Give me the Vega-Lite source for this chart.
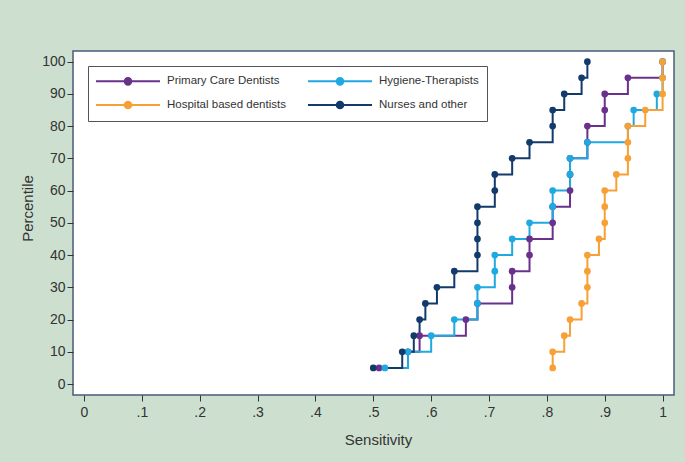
{
  "$schema": "https://vega.github.io/schema/vega-lite/v6.json",
  "width": 601,
  "height": 344,
  "autosize": "none",
  "padding": {"left": 73, "top": 51, "right": 11, "bottom": 67},
  "background": "#cde0d0",
  "config": {
    "view": {"fill": "white", "stroke": "#4b5b78", "strokeWidth": 1.5},
    "font": "Liberation Sans"
  },
  "datasets": {
    "pts": [
      {"group": "Primary Care Dentists", "percentile": 5, "sensitivity": 0.51},
      {"group": "Primary Care Dentists", "percentile": 10, "sensitivity": 0.56},
      {"group": "Primary Care Dentists", "percentile": 15, "sensitivity": 0.58},
      {"group": "Primary Care Dentists", "percentile": 20, "sensitivity": 0.66},
      {"group": "Primary Care Dentists", "percentile": 25, "sensitivity": 0.68},
      {"group": "Primary Care Dentists", "percentile": 30, "sensitivity": 0.74},
      {"group": "Primary Care Dentists", "percentile": 35, "sensitivity": 0.74},
      {"group": "Primary Care Dentists", "percentile": 40, "sensitivity": 0.77},
      {"group": "Primary Care Dentists", "percentile": 45, "sensitivity": 0.77},
      {"group": "Primary Care Dentists", "percentile": 50, "sensitivity": 0.81},
      {"group": "Primary Care Dentists", "percentile": 55, "sensitivity": 0.81},
      {"group": "Primary Care Dentists", "percentile": 60, "sensitivity": 0.84},
      {"group": "Primary Care Dentists", "percentile": 65, "sensitivity": 0.84},
      {"group": "Primary Care Dentists", "percentile": 70, "sensitivity": 0.84},
      {"group": "Primary Care Dentists", "percentile": 75, "sensitivity": 0.87},
      {"group": "Primary Care Dentists", "percentile": 80, "sensitivity": 0.87},
      {"group": "Primary Care Dentists", "percentile": 85, "sensitivity": 0.90},
      {"group": "Primary Care Dentists", "percentile": 90, "sensitivity": 0.90},
      {"group": "Primary Care Dentists", "percentile": 95, "sensitivity": 0.94},
      {"group": "Primary Care Dentists", "percentile": 100, "sensitivity": 1.0},
      {"group": "Hygiene-Therapists", "percentile": 5, "sensitivity": 0.52},
      {"group": "Hygiene-Therapists", "percentile": 10, "sensitivity": 0.56},
      {"group": "Hygiene-Therapists", "percentile": 15, "sensitivity": 0.60},
      {"group": "Hygiene-Therapists", "percentile": 20, "sensitivity": 0.64},
      {"group": "Hygiene-Therapists", "percentile": 25, "sensitivity": 0.68},
      {"group": "Hygiene-Therapists", "percentile": 30, "sensitivity": 0.68},
      {"group": "Hygiene-Therapists", "percentile": 35, "sensitivity": 0.71},
      {"group": "Hygiene-Therapists", "percentile": 40, "sensitivity": 0.71},
      {"group": "Hygiene-Therapists", "percentile": 45, "sensitivity": 0.74},
      {"group": "Hygiene-Therapists", "percentile": 50, "sensitivity": 0.77},
      {"group": "Hygiene-Therapists", "percentile": 55, "sensitivity": 0.81},
      {"group": "Hygiene-Therapists", "percentile": 60, "sensitivity": 0.81},
      {"group": "Hygiene-Therapists", "percentile": 65, "sensitivity": 0.84},
      {"group": "Hygiene-Therapists", "percentile": 70, "sensitivity": 0.84},
      {"group": "Hygiene-Therapists", "percentile": 75, "sensitivity": 0.87},
      {"group": "Hygiene-Therapists", "percentile": 80, "sensitivity": 0.94},
      {"group": "Hygiene-Therapists", "percentile": 85, "sensitivity": 0.95},
      {"group": "Hygiene-Therapists", "percentile": 90, "sensitivity": 0.99},
      {"group": "Hygiene-Therapists", "percentile": 95, "sensitivity": 1.0},
      {"group": "Hygiene-Therapists", "percentile": 100, "sensitivity": 1.0},
      {"group": "Hospital based dentists", "percentile": 5, "sensitivity": 0.81},
      {"group": "Hospital based dentists", "percentile": 10, "sensitivity": 0.81},
      {"group": "Hospital based dentists", "percentile": 15, "sensitivity": 0.83},
      {"group": "Hospital based dentists", "percentile": 20, "sensitivity": 0.84},
      {"group": "Hospital based dentists", "percentile": 25, "sensitivity": 0.86},
      {"group": "Hospital based dentists", "percentile": 30, "sensitivity": 0.87},
      {"group": "Hospital based dentists", "percentile": 35, "sensitivity": 0.87},
      {"group": "Hospital based dentists", "percentile": 40, "sensitivity": 0.87},
      {"group": "Hospital based dentists", "percentile": 45, "sensitivity": 0.89},
      {"group": "Hospital based dentists", "percentile": 50, "sensitivity": 0.90},
      {"group": "Hospital based dentists", "percentile": 55, "sensitivity": 0.90},
      {"group": "Hospital based dentists", "percentile": 60, "sensitivity": 0.90},
      {"group": "Hospital based dentists", "percentile": 65, "sensitivity": 0.92},
      {"group": "Hospital based dentists", "percentile": 70, "sensitivity": 0.94},
      {"group": "Hospital based dentists", "percentile": 75, "sensitivity": 0.94},
      {"group": "Hospital based dentists", "percentile": 80, "sensitivity": 0.94},
      {"group": "Hospital based dentists", "percentile": 85, "sensitivity": 0.97},
      {"group": "Hospital based dentists", "percentile": 90, "sensitivity": 1.0},
      {"group": "Hospital based dentists", "percentile": 95, "sensitivity": 1.0},
      {"group": "Hospital based dentists", "percentile": 100, "sensitivity": 1.0},
      {"group": "Nurses and other", "percentile": 5, "sensitivity": 0.50},
      {"group": "Nurses and other", "percentile": 10, "sensitivity": 0.55},
      {"group": "Nurses and other", "percentile": 15, "sensitivity": 0.57},
      {"group": "Nurses and other", "percentile": 20, "sensitivity": 0.58},
      {"group": "Nurses and other", "percentile": 25, "sensitivity": 0.59},
      {"group": "Nurses and other", "percentile": 30, "sensitivity": 0.61},
      {"group": "Nurses and other", "percentile": 35, "sensitivity": 0.64},
      {"group": "Nurses and other", "percentile": 40, "sensitivity": 0.68},
      {"group": "Nurses and other", "percentile": 45, "sensitivity": 0.68},
      {"group": "Nurses and other", "percentile": 50, "sensitivity": 0.68},
      {"group": "Nurses and other", "percentile": 55, "sensitivity": 0.68},
      {"group": "Nurses and other", "percentile": 60, "sensitivity": 0.71},
      {"group": "Nurses and other", "percentile": 65, "sensitivity": 0.71},
      {"group": "Nurses and other", "percentile": 70, "sensitivity": 0.74},
      {"group": "Nurses and other", "percentile": 75, "sensitivity": 0.77},
      {"group": "Nurses and other", "percentile": 80, "sensitivity": 0.81},
      {"group": "Nurses and other", "percentile": 85, "sensitivity": 0.81},
      {"group": "Nurses and other", "percentile": 90, "sensitivity": 0.83},
      {"group": "Nurses and other", "percentile": 95, "sensitivity": 0.86},
      {"group": "Nurses and other", "percentile": 100, "sensitivity": 0.87}
    ]
  },
  "data": {"name": "pts"},
  "mark": {
    "type": "line",
    "interpolate": "step-after",
    "strokeWidth": 2,
    "point": {"filled": true, "size": 45, "opacity": 1}
  },
  "encoding": {
    "x": {
      "field": "sensitivity",
      "type": "quantitative",
      "title": "Sensitivity",
      "scale": {"domain": [-0.019, 1.0197], "nice": false, "zero": false},
      "axis": {
        "values": [0, 0.1, 0.2, 0.3, 0.4, 0.5, 0.6, 0.7, 0.8, 0.9, 1],
        "labelExpr": "datum.value == 0 ? '0' : datum.value == 1 ? '1' : replace(format(datum.value, '.1f'), '0.', '.')",
        "domain": false,
        "grid": false,
        "tickSize": 6,
        "tickColor": "#333333",
        "labelFontSize": 14,
        "labelColor": "#333333",
        "labelPadding": 4,
        "titleFontSize": 15,
        "titleFontWeight": "normal",
        "titleColor": "#333333",
        "titleX": 305,
        "titleY": 49,
        "titleBaseline": "alphabetic"
      }
    },
    "y": {
      "field": "percentile",
      "type": "quantitative",
      "title": "Percentile",
      "scale": {"domain": [-3.4, 103.3], "nice": false, "zero": false},
      "axis": {
        "values": [0, 10, 20, 30, 40, 50, 60, 70, 80, 90, 100],
        "domain": false,
        "grid": false,
        "tickSize": 6,
        "tickColor": "#333333",
        "labelFontSize": 14,
        "labelColor": "#333333",
        "labelPadding": 2,
        "titleFontSize": 15,
        "titleFontWeight": "normal",
        "titleColor": "#333333",
        "titleX": -41,
        "titleY": 157,
        "titleBaseline": "alphabetic"
      }
    },
    "color": {
      "field": "group",
      "type": "nominal",
      "scale": {
        "domain": ["Primary Care Dentists", "Hygiene-Therapists", "Hospital based dentists", "Nurses and other"],
        "range": ["#6a318c", "#1fa9e1", "#f7a035", "#123a6b"]
      },
      "legend": {
        "orient": "none",
        "direction": "horizontal",
        "legendX": 15,
        "legendY": 15,
        "columns": 2,
        "title": null,
        "fillColor": "white",
        "strokeColor": "#555555",
        "padding": 8,
        "symbolType": "M-5.33,0H5.33M0.55,0A0.55,0.55,0,1,1,-0.55,0A0.55,0.55,0,1,1,0.55,0Z",
        "symbolSize": 144,
        "symbolStrokeWidth": 2,
        "symbolOffset": 25,
        "labelOffset": 32,
        "labelFontSize": 11.5,
        "labelColor": "#333333",
        "columnPadding": 18,
        "rowPadding": 8,
        "encode": {
          "symbols": {"update": {"fill": {"scale": "color", "field": "value"}, "opacity": {"value": 1}}}
        }
      }
    },
    "order": {"field": "percentile", "type": "quantitative"}
  }
}
